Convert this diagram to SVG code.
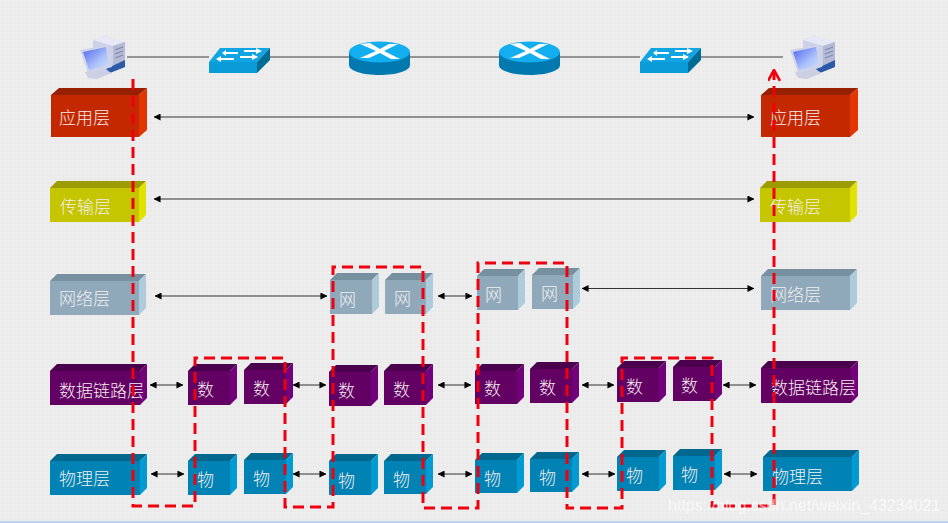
<svg xmlns="http://www.w3.org/2000/svg" width="948" height="523" viewBox="0 0 948 523">
<style>
text{font-family:"Noto Sans CJK SC","Liberation Sans",sans-serif;font-size:17px;font-weight:300;fill:#f3eeee;}
.r .f{fill:#c42800}.r .t{fill:#962000}.r .s{fill:#e23500}
.y .f{fill:#c6c600}.y .t{fill:#9c9c00}.y .s{fill:#e2e200}
.g .f{fill:#8fa9bb}.g .t{fill:#76909f}.g .s{fill:#aecbdc}
.p .f{fill:#620063}.p .t{fill:#4a004c}.p .s{fill:#71007a}
.b .f{fill:#0083b4}.b .t{fill:#00678e}.b .s{fill:#009bd2}
.a{stroke:#333;stroke-width:1;fill:none;marker-start:url(#ah);marker-end:url(#ah)}
.n{stroke:#777;stroke-width:1.4;fill:none}
</style>
<defs>
<pattern id="dots" width="4" height="4" patternUnits="userSpaceOnUse"><rect width="4" height="4" fill="#ececec"/><rect width="2" height="2" fill="#eeeeee"/><rect x="2" y="2" width="2" height="2" fill="#eaeaea"/></pattern>
<marker id="ah" viewBox="0 0 8 8" refX="7.5" refY="4" markerWidth="7" markerHeight="7" markerUnits="userSpaceOnUse" orient="auto-start-reverse"><path d="M0 0L8 4L0 8z" fill="#000"/></marker>
<marker id="rh" viewBox="0 0 12 12" refX="10" refY="6" markerWidth="13" markerHeight="13" markerUnits="userSpaceOnUse" orient="auto"><path d="M1 0.500L11 6L1 11.500" fill="none" stroke="#f0000f" stroke-width="2.400"/></marker>
<linearGradient id="scr" x1="0" y1="0" x2="1" y2="1"><stop offset="0" stop-color="#4f63ec"/><stop offset="0.6" stop-color="#a9c0fa"/><stop offset="1" stop-color="#d5e0fc"/></linearGradient>
<g id="pc">
<path d="M93 40L105 36L125 42V67L108 73L93 65z" fill="#cdd1e8"/>
<path d="M93 40L105 36L125 42L113 46z" fill="#e6e8f6"/>
<path d="M113 46L125 42V62L113 66z" fill="#b4bad6"/>
<path d="M115 50L123 47M115 54L123 51M115 58L123 55" stroke="#7f88ac" stroke-width="1.200"/>
<path d="M106 69L125 60V67L110 73z" fill="#2b5aa8"/>
<path d="M85 72L100 67L112 73L97 79L88 78z" fill="#cbcfe2"/>
<path d="M80 50L108 45L112 67L88 73z" fill="#cfd3e8"/>
<path d="M83 52L106 47L109 65L89 70z" fill="url(#scr)"/>
</g>
<g id="sw">
<path d="M209 62L220 48H270L257 62z" fill="#10a4e2"/>
<rect x="209" y="62" width="48" height="11" fill="#0a9cd8"/>
<path d="M257 62L270 48V60L257 73z" fill="#006b94"/>
<path d="M226 53H238M244 51H260M219 59H234M240 57H257" stroke="#fff" stroke-width="2"/>
<path d="M226 50L222 53L226 56zM256 48L262 51L256 54zM221 56L216 59L221 62zM252 54L258 57L252 60z" fill="#fff"/>
</g>
<g id="ro">
<path d="M349 52V65C349 71 363 75 379.500 75C396 75 410 71 410 65V52z" fill="#0279ae"/>
<ellipse cx="379.500" cy="52" rx="30.500" ry="10.500" fill="#12aef0"/>
<path d="M360 44L376 51L360 58H369L380 53L391 59H400L384 51L398 44H389L380 49L370 43z" fill="#fff"/>
</g>
</defs>
<rect id="bg" width="948" height="523" fill="url(#dots)"/>
<rect id="edge" y="521" width="948" height="2" fill="#bcd3ee"/>
<g id="connectors">
<path class="n" d="M127 57H209M270 57H349M410 57H499M560 57H640M701 57H783"/>
<path class="a" d="M154 117H754"/>
<path class="a" d="M154 199H754"/>
<path class="a" d="M155 296H327"/>
<path class="a" d="M438 296H472"/>
<path class="a" d="M582 288.500H754"/>
<path class="a" d="M150 385H183"/>
<path class="a" d="M293 385H326"/>
<path class="a" d="M438 385H471"/>
<path class="a" d="M582 385H614"/>
<path class="a" d="M723 385H756"/>
<path class="a" d="M151 474H184"/>
<path class="a" d="M293 474H326"/>
<path class="a" d="M438 474H472"/>
<path class="a" d="M582 474H615"/>
<path class="a" d="M724 474H757"/>
</g>
<g id="pc-left"><use href="#pc"/></g>
<g id="switch-1"><use href="#sw"/></g>
<g id="router-1"><use href="#ro"/></g>
<g id="router-2"><use href="#ro" x="150"/></g>
<g id="switch-2"><use href="#sw" x="431"/></g>
<g id="pc-right"><use href="#pc" x="710"/></g>

<g id="app-left" class="r"><path class="t" d="M51 95L59 88H147L139 95z"/><path class="s" d="M139 95L147 88V130L139 137z"/><rect class="f" x="51" y="95" width="88" height="42"/><text x="59" y="124">应用层</text></g>
<g id="trans-left" class="y"><path class="t" d="M50 188L57 181H146L139 188z"/><path class="s" d="M139 188L146 181V215L139 222z"/><rect class="f" x="50" y="188" width="89" height="34"/><text x="60" y="213">传输层</text></g>
<g id="net-left" class="g"><path class="t" d="M50 281L57 274H146L139 281z"/><path class="s" d="M139 281L146 274V308L139 315z"/><rect class="f" x="50" y="281" width="89" height="34"/><text x="59" y="305">网络层</text></g>
<g id="data-left" class="p"><path class="t" d="M50 371L57 364H147L140 371z"/><path class="s" d="M140 371L147 364V398L140 405z"/><rect class="f" x="50" y="371" width="90" height="34"/><text x="59" y="397">数据链路层</text></g>
<g id="phys-left" class="b"><path class="t" d="M50 461L57 454H147L140 461z"/><path class="s" d="M140 461L147 454V488L140 495z"/><rect class="f" x="50" y="461" width="90" height="34"/><text x="59" y="485">物理层</text></g>

<g id="data-1" class="p"><path class="t" d="M188 371L195 364H237L230 371z"/><path class="s" d="M230 371L237 364V398L230 405z"/><rect class="f" x="188" y="371" width="42" height="34"/><text x="197" y="396">数</text></g>
<g id="data-2" class="p"><path class="t" d="M244 370L251 363H293L286 370z"/><path class="s" d="M286 370L293 363V397L286 404z"/><rect class="f" x="244" y="370" width="42" height="34"/><text x="253" y="395">数</text></g>
<g id="phys-1" class="b"><path class="t" d="M188 461L195 454H237L230 461z"/><path class="s" d="M230 461L237 454V488L230 495z"/><rect class="f" x="188" y="461" width="42" height="34"/><text x="197" y="486">物</text></g>
<g id="phys-2" class="b"><path class="t" d="M244 460L251 453H293L286 460z"/><path class="s" d="M286 460L293 453V487L286 494z"/><rect class="f" x="244" y="460" width="42" height="34"/><text x="253" y="485">物</text></g>

<g id="net-1" class="g"><path class="t" d="M330 280L337 273H379L372 280z"/><path class="s" d="M372 280L379 273V307L372 314z"/><rect class="f" x="330" y="280" width="42" height="34"/><text x="339" y="306">网</text></g>
<g id="net-2" class="g"><path class="t" d="M385 280L392 273H433L426 280z"/><path class="s" d="M426 280L433 273V307L426 314z"/><rect class="f" x="385" y="280" width="41" height="34"/><text x="394" y="305">网</text></g>
<g id="data-3" class="p"><path class="t" d="M329 372L336 365H378L371 372z"/><path class="s" d="M371 372L378 365V399L371 406z"/><rect class="f" x="329" y="372" width="42" height="34"/><text x="338" y="397">数</text></g>
<g id="data-4" class="p"><path class="t" d="M384 371L391 364H433L426 371z"/><path class="s" d="M426 371L433 364V398L426 405z"/><rect class="f" x="384" y="371" width="42" height="34"/><text x="393" y="396">数</text></g>
<g id="phys-3" class="b"><path class="t" d="M329 461L336 454H378L371 461z"/><path class="s" d="M371 461L378 454V488L371 495z"/><rect class="f" x="329" y="461" width="42" height="34"/><text x="338" y="487">物</text></g>
<g id="phys-4" class="b"><path class="t" d="M384 461L391 454H433L426 461z"/><path class="s" d="M426 461L433 454V487L426 494z"/><rect class="f" x="384" y="461" width="42" height="33"/><text x="393" y="486">物</text></g>

<g id="net-3" class="g"><path class="t" d="M477 276L484 269H525L518 276z"/><path class="s" d="M518 276L525 269V303L518 310z"/><rect class="f" x="477" y="276" width="41" height="34"/><text x="485" y="301">网</text></g>
<g id="net-4" class="g"><path class="t" d="M532 275L539 268H580L573 275z"/><path class="s" d="M573 275L580 268V302L573 309z"/><rect class="f" x="532" y="275" width="41" height="34"/><text x="541" y="300">网</text></g>
<g id="data-5" class="p"><path class="t" d="M475 371L482 364H524L517 371z"/><path class="s" d="M517 371L524 364V397L517 404z"/><rect class="f" x="475" y="371" width="42" height="33"/><text x="484" y="395">数</text></g>
<g id="data-6" class="p"><path class="t" d="M530 369L537 362H579L572 369z"/><path class="s" d="M572 369L579 362V396L572 403z"/><rect class="f" x="530" y="369" width="42" height="34"/><text x="539" y="394">数</text></g>
<g id="phys-5" class="b"><path class="t" d="M475 460L482 453H524L517 460z"/><path class="s" d="M517 460L524 453V486L517 493z"/><rect class="f" x="475" y="460" width="42" height="33"/><text x="484" y="485">物</text></g>
<g id="phys-6" class="b"><path class="t" d="M530 459L537 452H579L572 459z"/><path class="s" d="M572 459L579 452V485L572 492z"/><rect class="f" x="530" y="459" width="42" height="33"/><text x="539" y="484">物</text></g>

<g id="data-7" class="p"><path class="t" d="M617 368L624 361H666L659 368z"/><path class="s" d="M659 368L666 361V395L659 402z"/><rect class="f" x="617" y="368" width="42" height="34"/><text x="626" y="393">数</text></g>
<g id="data-8" class="p"><path class="t" d="M673 367L680 360H722L715 367z"/><path class="s" d="M715 367L722 360V394L715 401z"/><rect class="f" x="673" y="367" width="42" height="34"/><text x="681" y="392">数</text></g>
<g id="phys-7" class="b"><path class="t" d="M617 457L624 450H666L659 457z"/><path class="s" d="M659 457L666 450V484L659 491z"/><rect class="f" x="617" y="457" width="42" height="34"/><text x="626" y="482">物</text></g>
<g id="phys-8" class="b"><path class="t" d="M673 456L680 449H722L715 456z"/><path class="s" d="M715 456L722 449V483L715 490z"/><rect class="f" x="673" y="456" width="42" height="34"/><text x="681" y="481">物</text></g>

<g id="app-right" class="r"><path class="t" d="M761 95L769 88H858L850 95z"/><path class="s" d="M850 95L858 88V130L850 137z"/><rect class="f" x="761" y="95" width="89" height="42"/><text x="770" y="124">应用层</text></g>
<g id="trans-right" class="y"><path class="t" d="M760 188L767 181H857L850 188z"/><path class="s" d="M850 188L857 181V215L850 222z"/><rect class="f" x="760" y="188" width="90" height="34"/><text x="770" y="213">传输层</text></g>
<g id="net-right" class="g"><path class="t" d="M761 276L768 269H857L850 276z"/><path class="s" d="M850 276L857 269V303L850 310z"/><rect class="f" x="761" y="276" width="89" height="34"/><text x="770" y="301">网络层</text></g>
<g id="data-right" class="p"><path class="t" d="M761 368L768 361H858L851 368z"/><path class="s" d="M851 368L858 361V396L851 403z"/><rect class="f" x="761" y="368" width="90" height="35"/><text x="771" y="394">数据链路层</text></g>
<g id="phys-right" class="b"><path class="t" d="M763 457L770 450H859L852 457z"/><path class="s" d="M852 457L859 450V484L852 491z"/><rect class="f" x="763" y="457" width="89" height="34"/><text x="772" y="483">物理层</text></g>

<g id="route">
<path d="M133 79V506H195V358H285V507H333V267H423V508H478V263H567V508H622V358H712V506H774V71" fill="none" stroke="#f0000f" stroke-width="3" stroke-dasharray="11 6" marker-end="url(#rh)"/>
</g>
<text id="watermark" x="668" y="511" style="font-family:'Liberation Sans',sans-serif;font-size:16px;font-weight:400;fill:#ffffff;fill-opacity:.65">https://blog.csdn.net/weixin_43234021</text>
</svg>
